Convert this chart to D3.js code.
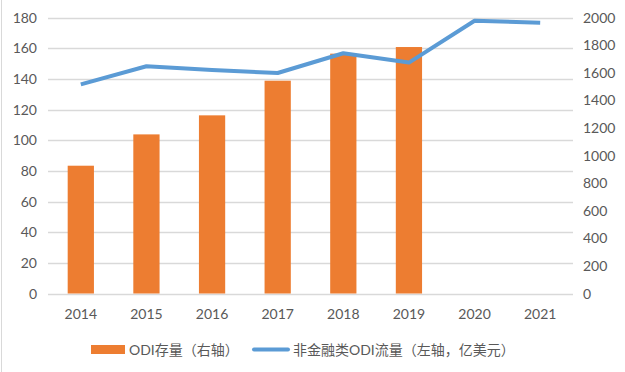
<!DOCTYPE html>
<html>
<head>
<meta charset="utf-8">
<script src="https://cdn.jsdelivr.net/npm/d3@7.9.0/dist/d3.min.js"></script>
<style>
  body { margin: 0; background: #fff; }
  text { font-family: Lato, "Noto Sans CJK SC", sans-serif; fill: #595959; }
</style>
</head>
<body>
<svg id="chart" width="625" height="372"></svg>
<script>
const years = ['2014', '2015', '2016', '2017', '2018', '2019', '2020', '2021'];
// ODI stock, right axis (bars), only through 2019
const stock = [926, 1153, 1291, 1542, 1738, 1786, null, null];
// non-financial ODI flow, left axis (line)
const flow = [136.4, 148.2, 145.8, 143.8, 156.7, 150.6, 177.9, 176.6];
const leftTicks = [0, 20, 40, 60, 80, 100, 120, 140, 160, 180];
const rightTicks = [0, 200, 400, 600, 800, 1000, 1200, 1400, 1600, 1800, 2000];

const svg = d3.select('#chart');
const plotLeft = 48, plotRight = 573, plotTop = 17.5, plotBottom = 293.5;

let x = d3.scaleBand().domain(years).range([plotLeft, plotRight])
  .paddingInner(0.6).paddingOuter(0.3);
let yL = d3.scaleLinear().domain([0, 180]).range([plotBottom, plotTop]);
let yR = d3.scaleLinear().domain([0, 2000]).range([plotBottom, plotTop]);

// left border of the chart frame
svg.append('line')
  .attr('x1', 1.5).attr('x2', 1.5).attr('y1', 0).attr('y2', 372)
  .attr('stroke', '#d9d9d9').attr('stroke-width', 1);

// gridlines
svg.append('g').selectAll('line')
  .data(leftTicks)
  .join('line')
  .attr('x1', plotLeft).attr('x2', plotRight)
  .attr('y1', d => Math.round(yL(d)) + 0.5)
  .attr('y2', d => Math.round(yL(d)) + 0.5)
  .attr('stroke', '#d9d9d9').attr('stroke-width', 1.3);

// bars
svg.append('g').selectAll('rect')
  .data(years.map((y, i) => ({ year: y, value: stock[i] })).filter(d => d.value != null))
  .join('rect')
  .attr('x', d => x(d.year))
  .attr('width', x.bandwidth())
  .attr('y', d => yR(d.value))
  .attr('height', d => yR(0) - yR(d.value))
  .attr('fill', '#ed7d31');

// line
let line = d3.line()
  .x((d, i) => x(years[i]) + x.bandwidth() / 2)
  .y(d => yL(d));
svg.append('path')
  .attr('d', line(flow))
  .attr('fill', 'none')
  .attr('stroke', '#5b9bd5')
  .attr('stroke-width', 4)
  .attr('stroke-linejoin', 'round');

// left axis labels
svg.append('g').selectAll('text')
  .data(leftTicks)
  .join('text')
  .attr('x', 37)
  .attr('y', d => yL(d))
  .attr('dy', '0.36em')
  .attr('text-anchor', 'end')
  .attr('font-size', 14)
  .text(d => d);

// right axis labels
svg.append('g').selectAll('text')
  .data(rightTicks)
  .join('text')
  .attr('x', 583)
  .attr('y', d => yR(d))
  .attr('dy', '0.36em')
  .attr('text-anchor', 'start')
  .attr('font-size', 14)
  .text(d => d);

// x labels
svg.append('g').selectAll('text')
  .data(years)
  .join('text')
  .attr('x', d => x(d) + x.bandwidth() / 2)
  .attr('y', 314)
  .attr('dy', '0.36em')
  .attr('text-anchor', 'middle')
  .attr('font-size', 14)
  .text(d => d);

// legend
let legend = svg.append('g');
legend.append('rect')
  .attr('x', 91).attr('y', 345).attr('width', 34).attr('height', 9)
  .attr('fill', '#ed7d31');
legend.append('text')
  .attr('x', 129).attr('y', 349.5).attr('dy', '0.36em')
  .attr('font-size', 14)
  .text('ODI存量（右轴）');
legend.append('line')
  .attr('x1', 254).attr('x2', 288).attr('y1', 349.5).attr('y2', 349.5)
  .attr('stroke', '#5b9bd5').attr('stroke-width', 4).attr('stroke-linecap', 'round');
legend.append('text')
  .attr('x', 293).attr('y', 349.5).attr('dy', '0.36em')
  .attr('font-size', 14)
  .text('非金融类ODI流量（左轴，亿美元）');
</script>
</body>
</html>
